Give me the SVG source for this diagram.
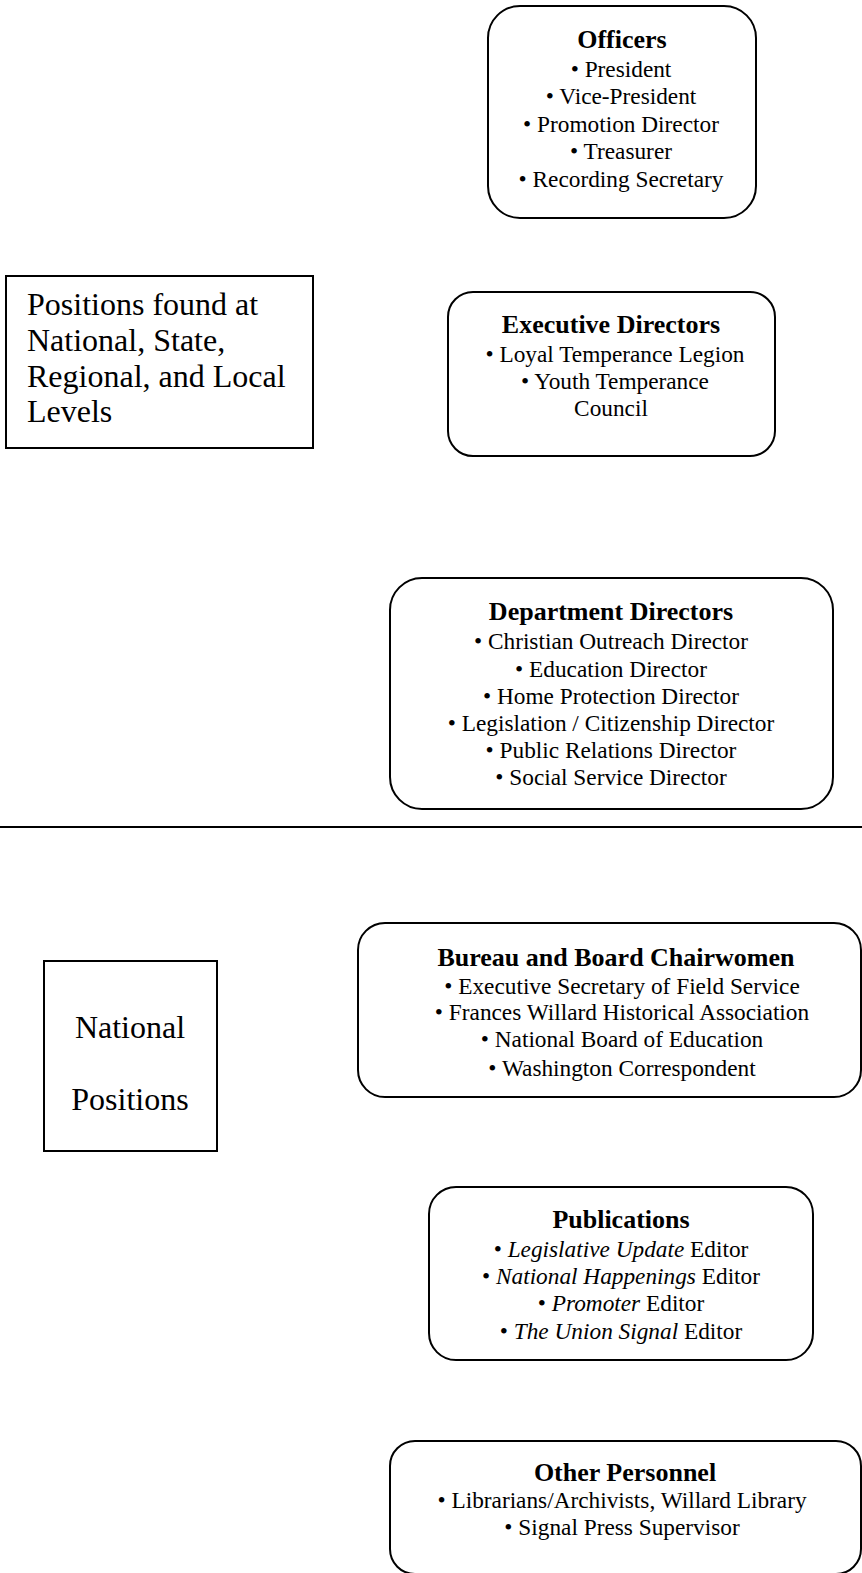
<svg xmlns="http://www.w3.org/2000/svg" width="862" height="1573" viewBox="0 0 862 1573">
<style>
  .box { fill: #ffffff; stroke: #000000; stroke-width: 2; }
  text { font-family: "Liberation Serif", "Times New Roman", serif; fill: #000000; }
  .t { font-size: 26px; font-weight: bold; text-anchor: middle; }
  .b { font-size: 23.3px; text-anchor: middle; }
  .big { font-size: 32px; }
  .nat { font-size: 32px; text-anchor: middle; }
</style>
<rect width="862" height="1573" fill="#ffffff"/>
<g id="officers">
  <rect class="box" x="488" y="6" width="268" height="212" rx="32" ry="32"/>
  <text class="t" x="622" y="48">Officers</text>
  <text class="b" x="621" y="77">• President</text>
  <text class="b" x="621" y="104">• Vice-President</text>
  <text class="b" x="621" y="132">• Promotion Director</text>
  <text class="b" x="621" y="159">• Treasurer</text>
  <text class="b" x="621" y="187">• Recording Secretary</text>
</g>
<g id="levels-label">
  <rect class="box" x="6" y="276" width="307" height="172"/>
  <text class="big" x="27" y="315">Positions found at</text>
  <text class="big" x="27" y="351">National, State,</text>
  <text class="big" x="27" y="387">Regional, and Local</text>
  <text class="big" x="27" y="422">Levels</text>
</g>
<g id="executive-directors">
  <rect class="box" x="448" y="292" width="327" height="164" rx="25" ry="25"/>
  <text class="t" x="611" y="333">Executive Directors</text>
  <text class="b" x="615" y="362">• Loyal Temperance Legion</text>
  <text class="b" x="615" y="389">• Youth Temperance</text>
  <text class="b" x="611" y="416">Council</text>
</g>
<g id="department-directors">
  <rect class="box" x="390" y="578" width="443" height="231" rx="32" ry="32"/>
  <text class="t" x="611" y="620">Department Directors</text>
  <text class="b" x="611" y="649">• Christian Outreach Director</text>
  <text class="b" x="611" y="677">• Education Director</text>
  <text class="b" x="611" y="704">• Home Protection Director</text>
  <text class="b" x="611" y="731">• Legislation / Citizenship Director</text>
  <text class="b" x="611" y="758">• Public Relations Director</text>
  <text class="b" x="611" y="785">• Social Service Director</text>
</g>
<g id="connectors">
  <line x1="0" y1="827" x2="862" y2="827" stroke="#000000" stroke-width="2"/>
</g>
<g id="bureau-board">
  <rect class="box" x="358" y="923" width="503" height="174" rx="27" ry="27"/>
  <text class="t" x="616" y="966">Bureau and Board Chairwomen</text>
  <text class="b" x="622" y="994">• Executive Secretary of Field Service</text>
  <text class="b" x="622" y="1020">• Frances Willard Historical Association</text>
  <text class="b" x="622" y="1047">• National Board of Education</text>
  <text class="b" x="622" y="1076">• Washington Correspondent</text>
</g>
<g id="national-label">
  <rect class="box" x="44" y="961" width="173" height="190"/>
  <text class="nat" x="130" y="1038">National</text>
  <text class="nat" x="130" y="1110">Positions</text>
</g>
<g id="publications">
  <rect class="box" x="429" y="1187" width="384" height="173" rx="27" ry="27"/>
  <text class="t" x="621" y="1228">Publications</text>
  <text class="b" x="621" y="1257">• <tspan font-style="italic">Legislative Update</tspan> Editor</text>
  <text class="b" x="621" y="1284">• <tspan font-style="italic">National Happenings</tspan> Editor</text>
  <text class="b" x="621" y="1311">• <tspan font-style="italic">Promoter</tspan> Editor</text>
  <text class="b" x="621" y="1339">• <tspan font-style="italic">The Union Signal</tspan> Editor</text>
</g>
<g id="other-personnel">
  <rect class="box" x="390" y="1441" width="471" height="133" rx="25" ry="25"/>
  <text class="t" x="625" y="1481">Other Personnel</text>
  <text class="b" x="622" y="1508">• Librarians/Archivists, Willard Library</text>
  <text class="b" x="622" y="1535">• Signal Press Supervisor</text>
</g>
</svg>
